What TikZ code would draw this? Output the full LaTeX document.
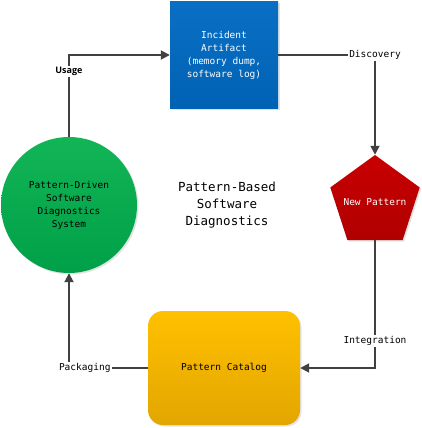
\documentclass[tikz,border=0pt]{standalone}
\usepackage{fontspec}
\setmonofont{DejaVu Sans Mono}
\newfontfamily\usagefont{Open Sans}
\usetikzlibrary{shapes.geometric, arrows.meta, shadows, positioning}

\definecolor{artblue}{HTML}{0A6FC4}
\definecolor{artblueb}{HTML}{0062B4}
\definecolor{patred}{HTML}{C80000}
\definecolor{patredb}{HTML}{B00000}
\definecolor{sysgreen}{HTML}{12B556}
\definecolor{sysgreenb}{HTML}{00A048}
\definecolor{catyellow}{HTML}{FFC000}
\definecolor{catyellowb}{HTML}{E2A600}
\definecolor{flowgray}{HTML}{404040}

\tikzset{
    boxtext/.style={font=\ttfamily\fontsize{9.5}{13}\selectfont, align=center, inner sep=0pt},
    softshadow/.style={drop shadow={opacity=0.22, shadow xshift=1.5pt, shadow yshift=-1.5pt}},
    flow/.style={draw=flowgray, line width=1.8pt, -{Triangle[length=9pt,width=9pt]}},
    steplabel/.style={font=\ttfamily\fontsize{9.5}{11}\selectfont, fill=white, inner sep=1.5pt, text=black}
}

\begin{document}
\begin{tikzpicture}[x=1pt, y=-1pt]

        \useasboundingbox[fill=white] (0,0) rectangle (422,428);

        % Knoten
        \node[boxtext, softshadow, top color=artblue, bottom color=artblueb, text=white,
              minimum width=108pt, minimum height=106pt] (artifact) at (224,55)
              {Incident\\Artifact\\(memory dump,\\software log)};
        \node[boxtext, softshadow, regular polygon, regular polygon sides=5, minimum size=94pt,
              top color=patred, bottom color=patredb, text=white] (newpat) at (375,202)
              {\makebox[0pt]{New Pattern}};
        \node[boxtext, softshadow, rounded corners=15pt, top color=catyellow, bottom color=catyellowb,
              minimum width=152pt, minimum height=114pt] (catalog) at (224,368) {Pattern Catalog};
        \node[boxtext, softshadow, circle, minimum size=136pt, top color=sysgreen, bottom color=sysgreenb]
              (system) at (69,205) {Pattern-Driven\\Software\\Diagnostics\\System};

        \node[boxtext, font=\ttfamily\fontsize{12.5}{17}\selectfont] (title) at (227,205)
              {Pattern-Based\\Software\\Diagnostics};

        % Pfeile
        \draw[flow] (system.north) |- node[pos=0.4, steplabel, font=\usagefont\bfseries\fontsize{9}{11}\selectfont] (usage) {Usage} (artifact.west);
        \draw[flow] (artifact.east) -| node[pos=0.5, steplabel] (discovery) {Discovery} (newpat.north);
        \draw[flow] (newpat.south) |- node[pos=0.395, steplabel] (integration) {Integration} (catalog.east);
        \draw[flow] (catalog.west) -| node[pos=0.4, steplabel] (packaging) {Packaging} (system.south);

    \end{tikzpicture}
\end{document}
